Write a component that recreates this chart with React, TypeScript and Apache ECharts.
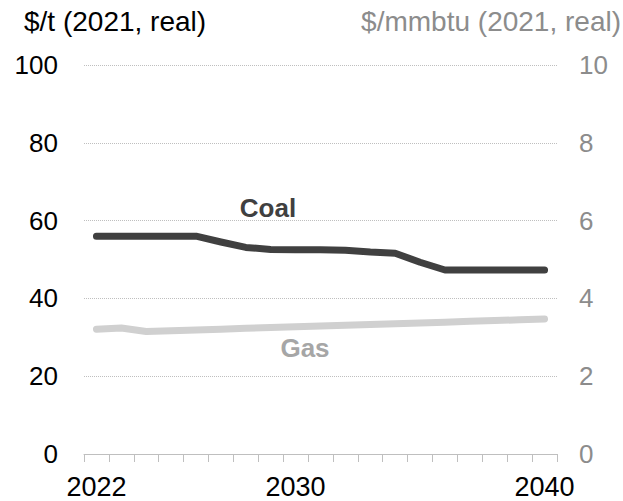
import React, { useEffect, useRef } from "react";
import * as echarts from "echarts";

const years = ["2022","2023","2024","2025","2026","2027","2028","2029","2030","2031","2032","2033","2034","2035","2036","2037","2038","2039","2040"];
const coal = [56, 56, 56, 56, 56, 54.5, 53.1, 52.6, 52.5, 52.5, 52.4, 51.9, 51.6, 49.3, 47.3, 47.3, 47.3, 47.3, 47.3];
const gas = [3.21, 3.24, 3.15, 3.17, 3.19, 3.21, 3.23, 3.25, 3.27, 3.29, 3.31, 3.33, 3.35, 3.37, 3.39, 3.41, 3.43, 3.45, 3.47];
const shownYears = ["2022", "2030", "2040"];
const leftTitle = "$/t (2021, real)";
const rightTitle = "$/mmbtu (2021, real)";

const FONT = "Liberation Sans, Arial, sans-serif";

export default function App() {
  const ref = useRef<HTMLDivElement>(null);
  useEffect(() => {
    if (!ref.current) return;
    const chart = echarts.init(ref.current, undefined, { renderer: "svg" });
    chart.setOption({
      animation: false,
      backgroundColor: "#ffffff",
      grid: { left: 84, right: 66, top: 65, bottom: 47 },
      xAxis: {
        type: "category",
        data: years,
        boundaryGap: true,
        axisLine: { show: true, lineStyle: { color: "#bfbfbf", width: 1 } },
        axisTick: { show: true, interval: 0, length: 8, lineStyle: { color: "#bfbfbf" } },
        axisLabel: {
          interval: (i: number, v: string) => shownYears.includes(v),
          color: "#000000",
          fontSize: 27,
          fontFamily: FONT,
          margin: 19,
        },
        splitLine: { show: false },
      },
      yAxis: [
        {
          type: "value",
          min: 0,
          max: 100,
          interval: 20,
          axisLine: { show: false },
          axisTick: { show: false },
          axisLabel: { color: "#000000", fontSize: 26, fontFamily: FONT, margin: 26 },
          splitLine: { show: true, lineStyle: { color: "#bfbfbf", type: "dotted", width: 1 } },
        },
        {
          type: "value",
          min: 0,
          max: 10,
          interval: 2,
          axisLine: { show: false },
          axisTick: { show: false },
          axisLabel: { color: "#8c8c8c", fontSize: 26, fontFamily: FONT, margin: 22 },
          splitLine: { show: false },
        },
      ],
      series: [
        {
          name: "Coal",
          type: "line",
          data: coal,
          yAxisIndex: 0,
          symbol: "none",
          lineStyle: { color: "#404040", width: 7, cap: "round", join: "round" },
          z: 3,
        },
        {
          name: "Gas",
          type: "line",
          data: gas,
          yAxisIndex: 1,
          symbol: "none",
          lineStyle: { color: "#d0d0d0", width: 7, cap: "round", join: "round" },
          z: 2,
        },
      ],
      graphic: [
        {
          type: "text",
          left: 24,
          top: 7,
          style: { text: leftTitle, fill: "#000000", fontSize: 28, fontFamily: FONT },
        },
        {
          type: "text",
          right: 2,
          top: 7,
          style: { text: rightTitle, fill: "#8c8c8c", fontSize: 28, fontFamily: FONT },
        },
        {
          type: "text",
          x: 268,
          y: 208,
          style: {
            text: "Coal",
            fill: "#404040",
            fontSize: 26,
            fontWeight: "bold",
            fontFamily: FONT,
            align: "center",
            verticalAlign: "middle",
          },
        },
        {
          type: "text",
          x: 305,
          y: 348,
          style: {
            text: "Gas",
            fill: "#a6a6a6",
            fontSize: 26,
            fontWeight: "bold",
            fontFamily: FONT,
            align: "center",
            verticalAlign: "middle",
          },
        },
      ],
    });
    return () => chart.dispose();
  }, []);
  return <div ref={ref} style={{ width: 623, height: 501, position: "absolute", left: 0, top: 0 }} />;
}
